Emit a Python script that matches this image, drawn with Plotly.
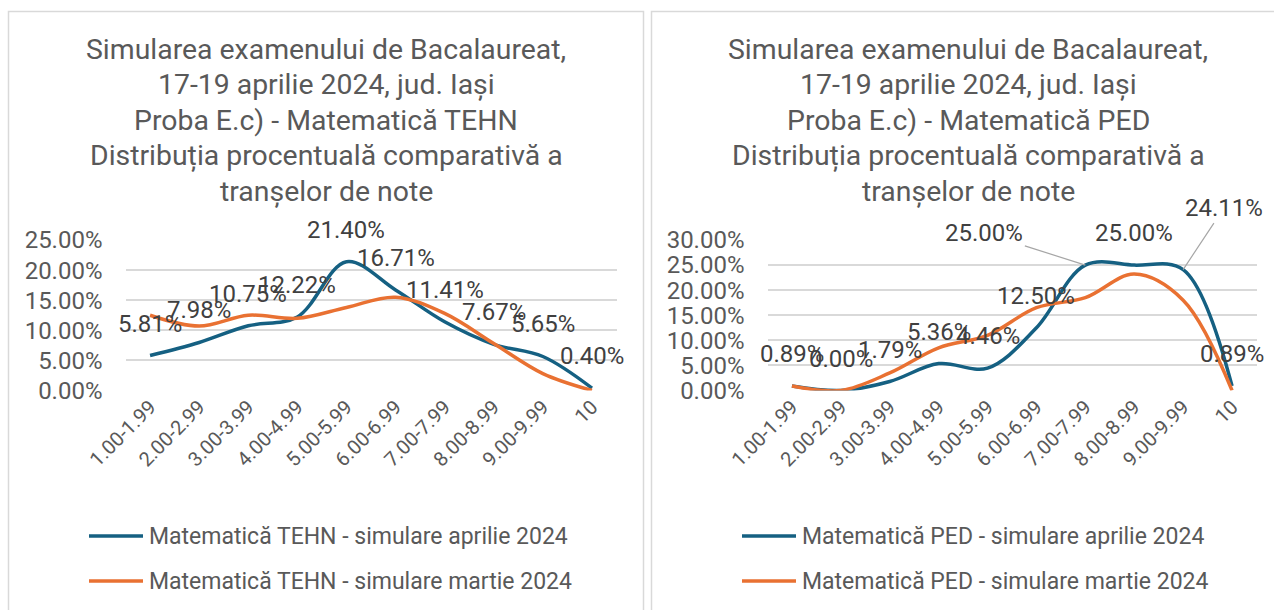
import plotly.graph_objects as go

W, H = 1274, 610

categories = ["1.00-1.99", "2.00-2.99", "3.00-3.99", "4.00-4.99", "5.00-5.99",
              "6.00-6.99", "7.00-7.99", "8.00-8.99", "9.00-9.99", "10"]

tehn_aprilie = [5.81, 7.98, 10.75, 12.22, 21.40, 16.71, 11.41, 7.67, 5.65, 0.40]
tehn_martie = [12.5, 10.7, 12.5, 12.0, 13.8, 15.5, 12.8, 7.8, 2.8, 0.0]
ped_aprilie = [0.89, 0.00, 1.79, 5.36, 4.46, 12.50, 25.00, 25.00, 24.11, 0.89]
ped_martie = [0.89, 0.0, 3.5, 8.5, 11.0, 16.5, 18.5, 23.2, 18.0, 0.0]

title_tehn = ["Simularea examenului de Bacalaureat,", "17-19 aprilie 2024, jud. Iași",
              "Proba E.c) - Matematică TEHN", "Distribuția procentuală comparativă a",
              "tranșelor de note"]
title_ped = ["Simularea examenului de Bacalaureat,", "17-19 aprilie 2024, jud. Iași",
             "Proba E.c) - Matematică PED", "Distribuția procentuală comparativă a",
             "tranșelor de note"]

names_tehn = ["Matematică TEHN - simulare aprilie 2024", "Matematică TEHN - simulare martie 2024"]
names_ped = ["Matematică PED - simulare aprilie 2024", "Matematică PED - simulare martie 2024"]

BLUE = "#156082"
ORANGE = "#E97132"
TXT = "#595959"
LBL = "#404040"
GRID = "#d9d9d9"
FONT = "Roboto"

def pct(v):
    return [x / 100 for x in v]

fig = go.Figure()

series = [
    (tehn_aprilie, names_tehn[0], BLUE, "x", "y"),
    (tehn_martie, names_tehn[1], ORANGE, "x", "y"),
    (ped_aprilie, names_ped[0], BLUE, "x2", "y2"),
    (ped_martie, names_ped[1], ORANGE, "x2", "y2"),
]
for vals, name, col, xa, ya in series:
    fig.add_trace(go.Scatter(x=categories, y=pct(vals), name=name, mode="lines",
                             line=dict(color=col, width=3.5, shape="spline", smoothing=1.0),
                             xaxis=xa, yaxis=ya, showlegend=False, hoverinfo="skip"))

ann = []
LSIZE = 24
# data labels (x given as category index)
for i, v in enumerate(tehn_aprilie):
    ann.append(dict(x=i, y=v / 100, xref="x", yref="y", text=f"{v:.2f}%", showarrow=False,
                    yshift=32, font=dict(size=LSIZE, color=LBL, family=FONT)))
leader = {6: (-101, -32), 8: (41, -62)}
for i, v in enumerate(ped_aprilie):
    if i in leader:
        ax, ay = leader[i]
        ann.append(dict(x=i, y=v / 100, xref="x2", yref="y2", text=f"{v:.2f}%", showarrow=True,
                        arrowhead=0, arrowwidth=1.2, arrowcolor="#a6a6a6", ax=ax, ay=ay,
                        standoff=0, font=dict(size=LSIZE, color=LBL, family=FONT)))
    else:
        ann.append(dict(x=i, y=v / 100, xref="x2", yref="y2", text=f"{v:.2f}%", showarrow=False,
                        yshift=32, font=dict(size=LSIZE, color=LBL, family=FONT)))

# titles
title_y = [49, 84.5, 120, 155.5, 191]
for lines, cx in ((title_tehn, 326), (title_ped, 968)):
    for t, yy in zip(lines, title_y):
        ann.append(dict(x=cx / W, y=1 - yy / H, xref="paper", yref="paper", text=t,
                        showarrow=False, xanchor="center", yanchor="middle",
                        font=dict(size=28.4, color=TXT, family=FONT)))

shapes = [
    dict(type="rect", xref="paper", yref="paper", x0=8.5 / W, x1=643.5 / W, y0=-0.05, y1=1 - 11.5 / H,
         line=dict(color=GRID, width=1.5)),
    dict(type="rect", xref="paper", yref="paper", x0=651.5 / W, x1=1.05, y0=-0.05, y1=1 - 11.5 / H,
         line=dict(color=GRID, width=1.5)),
]

# legends (drawn as line samples + text)
legend_rows = [536, 581]
for names, (lx0, lx1, tx) in ((names_tehn, (89, 143, 147)), (names_ped, (742, 796, 800))):
    for name, col, yy in zip(names, (BLUE, ORANGE), legend_rows):
        shapes.append(dict(type="line", xref="paper", yref="paper", x0=lx0 / W, x1=lx1 / W,
                           y0=1 - yy / H, y1=1 - yy / H, line=dict(color=col, width=3.5)))
        ann.append(dict(x=tx / W, y=1 - yy / H, xref="paper", yref="paper", text=name,
                        showarrow=False, xanchor="left", yanchor="middle",
                        font=dict(size=23, color=TXT, family=FONT)))

ydom = [1 - 390.5 / H, 1 - 240 / H]
common_x = dict(type="category", range=[-0.5, 9.5], tickangle=-45, showgrid=False,
                showline=False, zeroline=False, ticks="", automargin=False,
                tickfont=dict(size=20, color=TXT, family=FONT), fixedrange=True)
common_y = dict(tickformat=".2%", dtick=0.05, showgrid=True, gridcolor=GRID, gridwidth=1.5,
                zeroline=False, showline=False, ticks="", ticklabelstandoff=22, automargin=False,
                tickfont=dict(size=24, color=TXT, family=FONT), fixedrange=True)

fig.update_layout(
    width=W, height=H,
    margin=dict(l=0, r=0, t=0, b=0),
    paper_bgcolor="white", plot_bgcolor="white",
    xaxis=dict(domain=[125.5 / W, 616.5 / W], anchor="y", **common_x),
    yaxis=dict(domain=ydom, range=[0, 0.25], anchor="x", **common_y),
    xaxis2=dict(domain=[767.5 / W, 1256.5 / W], anchor="y2", **common_x),
    yaxis2=dict(domain=ydom, range=[0, 0.30], anchor="x2", **common_y),
    annotations=ann,
    shapes=shapes,
    showlegend=False,
)

fig.write_html("out.html", config={"displayModeBar": False},
               post_script="document.body.style.margin='0';document.body.style.overflow='hidden';")
